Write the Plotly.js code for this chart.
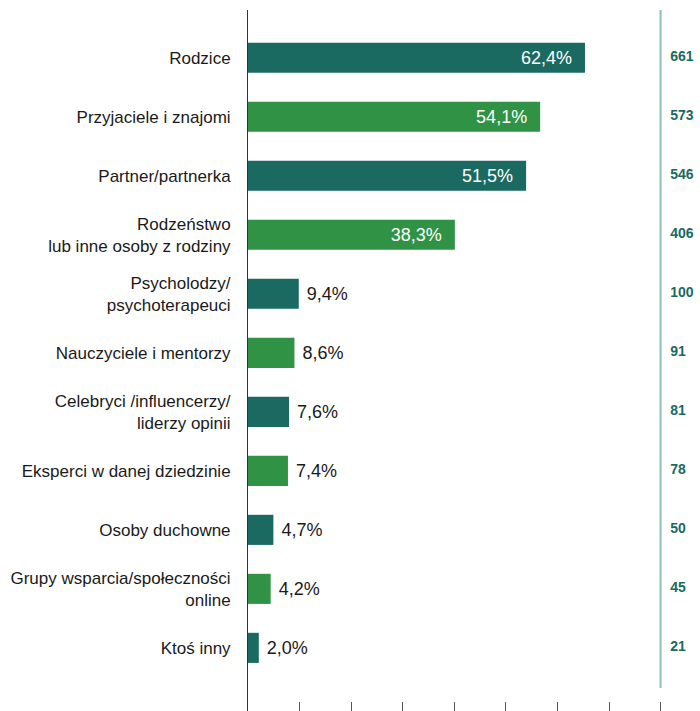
<!DOCTYPE html>
<html>
<head>
<meta charset="utf-8">
<script src="https://cdn.plot.ly/plotly-3.0.1.min.js"></script>
<style>html,body{margin:0;padding:0;background:#fff;}#chart{width:700px;height:711px;}</style>
</head>
<body>
<div id="chart"></div>
<script>
const categories = [
  "Rodzice",
  "Przyjaciele i znajomi",
  "Partner/partnerka",
  "Rodzeństwo<br>lub inne osoby z rodziny",
  "Psycholodzy/<br>psychoterapeuci",
  "Nauczyciele i mentorzy",
  "Celebryci /influencerzy/<br>liderzy opinii",
  "Eksperci w danej dziedzinie",
  "Osoby duchowne",
  "Grupy wsparcia/społeczności<br>online",
  "Ktoś inny"
];
const percents = [62.4, 54.1, 51.5, 38.3, 9.4, 8.6, 7.6, 7.4, 4.7, 4.2, 2.0];
const counts = [661, 573, 546, 406, 100, 91, 81, 78, 50, 45, 21];

const TEAL = "#1a6a61";
const GREEN = "#2f9244";
const FONT = "Liberation Sans, Arial, sans-serif";
const colors = percents.map((v, i) => i % 2 === 0 ? TEAL : GREEN);
const insideThreshold = 20;
const NB = "\u00a0";
const labels = percents.map(v => {
  const s = v.toFixed(1).replace(".", ",") + "%";
  return v >= insideThreshold ? s + NB + NB : NB + s;
});
const textPos = percents.map(v => v >= insideThreshold ? "inside" : "outside");

const xMax = 83.7;
const lineX = 76.4;
const countX = 78.2;
const tickStep = lineX / 8;
const tickVals = [];
for (let i = 1; i <= 8; i++) tickVals.push(i * tickStep);

const yIdx = categories.map((c, i) => i);

const traces = [
  {
    type: "bar",
    orientation: "h",
    y: yIdx,
    x: percents,
    width: 0.51,
    marker: { color: colors },
    text: labels,
    textposition: textPos,
    insidetextanchor: "end",
    insidetextfont: { family: FONT, size: 18, color: "#ffffff" },
    outsidetextfont: { family: FONT, size: 18, color: "#1a1a1a" },
    cliponaxis: false,
    hoverinfo: "none"
  },
  {
    type: "scatter",
    mode: "text",
    y: yIdx,
    x: counts.map(() => countX),
    text: counts.map(String),
    textposition: "middle right",
    textfont: { family: FONT, size: 14, color: TEAL, weight: "bold" },
    cliponaxis: false,
    hoverinfo: "none"
  }
];

const layout = {
  width: 700,
  height: 711,
  margin: { l: 248, r: 0, t: 10, b: 0 },
  paper_bgcolor: "#ffffff",
  plot_bgcolor: "#ffffff",
  showlegend: false,
  font: { family: FONT, size: 17, color: "#1a1a1a" },
  xaxis: {
    range: [0, xMax],
    showgrid: false,
    zeroline: false,
    showline: false,
    tickmode: "array",
    tickvals: tickVals,
    ticks: "inside",
    ticklen: 9,
    tickwidth: 1,
    tickcolor: "#555555",
    showticklabels: false,
    fixedrange: true
  },
  yaxis: {
    range: [11.07, -0.81],
    tickmode: "array",
    tickvals: yIdx,
    ticktext: categories,
    showgrid: false,
    zeroline: false,
    showline: true,
    linecolor: "#333333",
    linewidth: 1,
    ticks: "outside",
    ticklen: 13,
    tickcolor: "rgba(0,0,0,0)",
    tickfont: { family: FONT, size: 17, color: "#1a1a1a" },
    fixedrange: true
  },
  shapes: [
    {
      type: "line",
      xref: "x",
      yref: "paper",
      x0: lineX, x1: lineX,
      y0: 0.0328, y1: 1,
      line: { color: "#8fbdb8", width: 2 }
    }
  ]
};

Plotly.newPlot("chart", traces, layout, { displayModeBar: false, staticPlot: true });
</script>
</body>
</html>
